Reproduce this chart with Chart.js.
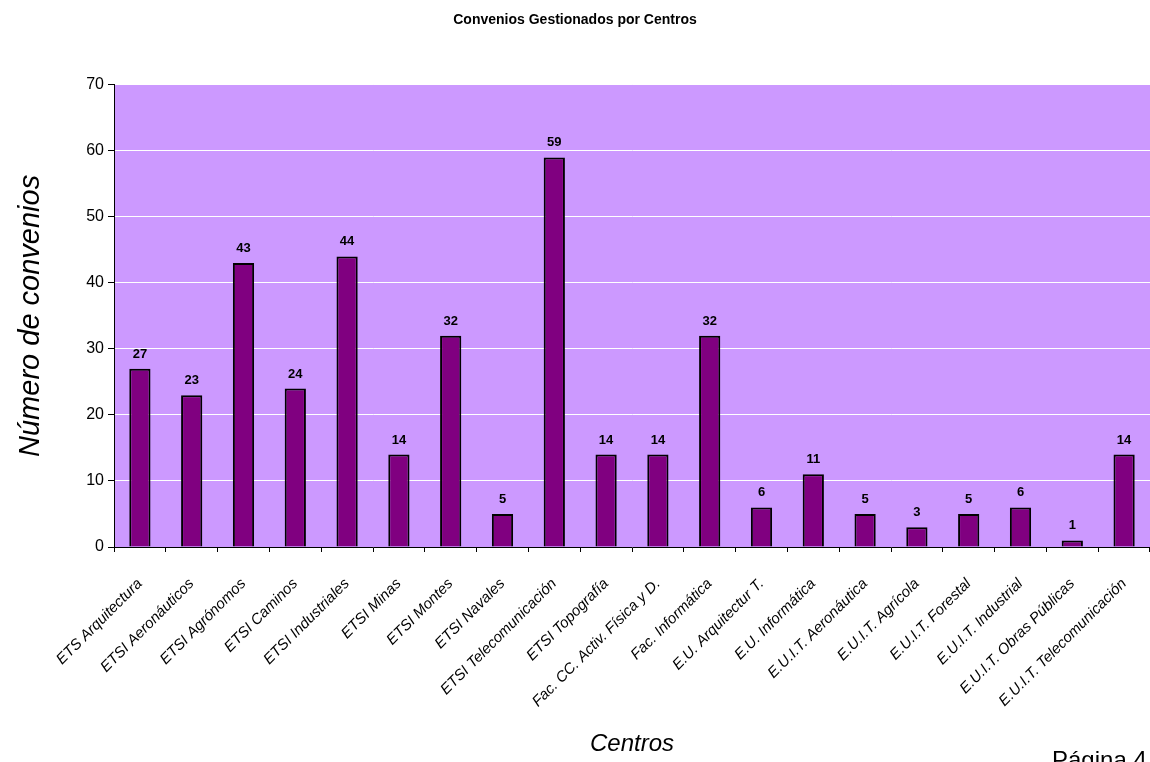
<!DOCTYPE html>
<html>
<head>
<meta charset="utf-8">
<script src="https://cdn.jsdelivr.net/npm/chart.js@4.4.1/dist/chart.umd.min.js"></script>
<style>
  html, body { margin: 0; padding: 0; background: #fff; }
  #wrap { width: 1150px; height: 762px; }
</style>
</head>
<body>
<div id="wrap"><canvas id="chart" width="1150" height="762"></canvas></div>
<script>
const centros = [
  'ETS Arquitectura', 'ETSI Aeronáuticos', 'ETSI Agrónomos', 'ETSI Caminos',
  'ETSI Industriales', 'ETSI Minas', 'ETSI Montes', 'ETSI Navales',
  'ETSI Telecomunicación', 'ETSI Topografía', 'Fac. CC. Activ. Física y D.',
  'Fac. Informática', 'E.U. Arquitectur T.', 'E.U. Informática',
  'E.U.I.T. Aeronáutica', 'E.U.I.T. Agrícola', 'E.U.I.T. Forestal',
  'E.U.I.T. Industrial', 'E.U.I.T. Obras Públicas', 'E.U.I.T. Telecomunicación'
];
const convenios = [27, 23, 43, 24, 44, 14, 32, 5, 59, 14, 14, 32, 6, 11, 5, 3, 5, 6, 1, 14];

const FONT = "'Liberation Sans', Arial, sans-serif";

// fondo lila del área de trazado
const plotBg = {
  id: 'plotBg',
  beforeDraw(chart) {
    const { ctx, chartArea: a } = chart;
    ctx.save();
    ctx.fillStyle = '#CC99FF';
    ctx.fillRect(a.left, a.top, a.right - a.left, a.bottom - a.top);
    ctx.restore();
  }
};

// valores encima de cada barra
const barValues = {
  id: 'barValues',
  afterDatasetsDraw(chart) {
    const { ctx } = chart;
    const meta = chart.getDatasetMeta(0);
    ctx.save();
    ctx.font = 'bold 13px ' + FONT;
    ctx.fillStyle = '#000';
    ctx.textAlign = 'center';
    ctx.textBaseline = 'alphabetic';
    meta.data.forEach((bar, i) => {
      ctx.fillText(convenios[i], bar.x, bar.y - 11);
    });
    ctx.restore();
  }
};

// pie de página
const pageNum = {
  id: 'pageNum',
  afterDraw(chart) {
    const { ctx } = chart;
    ctx.save();
    ctx.font = '24px ' + FONT;
    ctx.fillStyle = '#000';
    ctx.textAlign = 'left';
    ctx.textBaseline = 'alphabetic';
    ctx.fillText('Página 4', 1052, 768);
    ctx.restore();
  }
};

new Chart(document.getElementById('chart'), {
  type: 'bar',
  data: {
    labels: centros,
    datasets: [{
      data: convenios,
      backgroundColor: '#800080',
      borderColor: '#000',
      borderWidth: 2,
      barPercentage: 0.41,
      categoryPercentage: 1
    }]
  },
  options: {
    responsive: false,
    animation: false,
    layout: { padding: 0 },
    plugins: {
      legend: { display: false },
      tooltip: { enabled: false },
      title: {
        display: true,
        text: 'Convenios Gestionados por Centros',
        color: '#000',
        font: { family: FONT, size: 14, weight: 'bold' },
        padding: { top: 12, bottom: 56 }
      }
    },
    scales: {
      x: {
        afterFit(s) {
          s.height = 215;
          s.paddingLeft = 0;
          s.paddingRight = 0;
        },
        grid: { drawOnChartArea: false, tickColor: '#000', tickLength: 5, offset: true },
        border: { color: '#000', width: 1 },
        ticks: {
          color: '#000',
          autoSkip: false,
          minRotation: 45,
          maxRotation: 45,
          padding: 23,
          font: { family: FONT, size: 15, style: 'italic' }
        },
        title: {
          display: true,
          text: 'Centros',
          color: '#000',
          font: { family: FONT, size: 24, style: 'italic' },
          padding: { top: 0, bottom: 3 }
        }
      },
      y: {
        min: 0,
        max: 70,
        afterFit(s) { s.width = 114; },
        grid: { color: '#fff', lineWidth: 1, tickColor: '#000', tickLength: 6 },
        border: { color: '#000', width: 1 },
        ticks: {
          stepSize: 10,
          color: '#000',
          padding: 4,
          font: { family: FONT, size: 16 }
        },
        title: {
          display: true,
          text: 'Número de convenios',
          color: '#000',
          font: { family: FONT, size: 29, style: 'italic' },
          padding: { top: 14, bottom: 0 }
        }
      }
    }
  },
  plugins: [plotBg, barValues, pageNum]
});
</script>
</body>
</html>
